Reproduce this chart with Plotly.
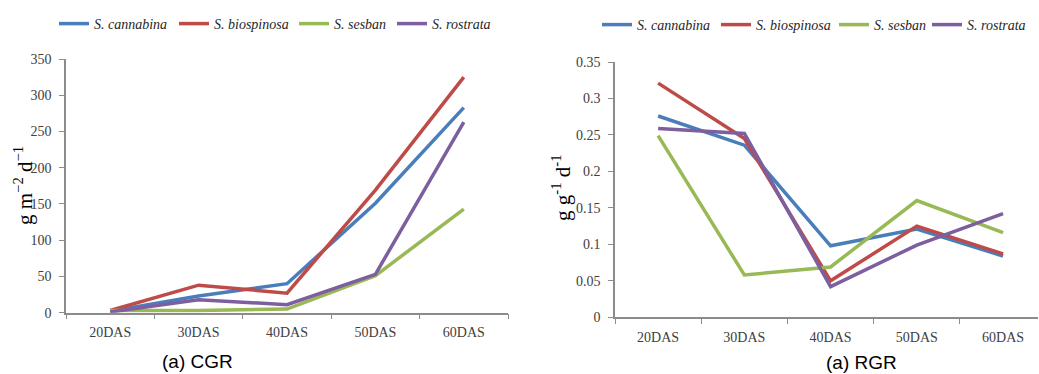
import plotly.graph_objects as go

W, H = 1039, 374
categories = ["20DAS", "30DAS", "40DAS", "50DAS", "60DAS"]
species = ["S. cannabina", "S. biospinosa", "S. sesban", "S. rostrata"]
colors = ["#4A7EBB", "#BE4B48", "#98B954", "#7D5FA0"]

cgr_cannabina = [2, 23, 40, 151, 283]
cgr_biospinosa = [3, 38, 27, 169, 325]
cgr_sesban = [3, 3, 5, 51, 143]
cgr_rostrata = [1, 18, 11, 53, 263]

rgr_cannabina = [0.276, 0.236, 0.098, 0.121, 0.084]
rgr_biospinosa = [0.321, 0.245, 0.050, 0.125, 0.087]
rgr_sesban = [0.249, 0.058, 0.069, 0.160, 0.116]
rgr_rostrata = [0.259, 0.252, 0.042, 0.099, 0.142]

cgr = [cgr_cannabina, cgr_biospinosa, cgr_sesban, cgr_rostrata]
rgr = [rgr_cannabina, rgr_biospinosa, rgr_sesban, rgr_rostrata]

# legend line start positions (px) in each panel
leg_left_x = [60, 180, 300, 398]
leg_right_x = [603, 722, 840, 933]


def px(x):
    return x / W


def py(y):
    return 1 - y / H


legfont = dict(family="Liberation Serif", size=14, color="#262626", style="italic")

fig = go.Figure()
legends = {}
for i, (name, col, vals) in enumerate(zip(species, colors, cgr)):
    lid = f"legend{i + 2}"
    fig.add_trace(go.Scatter(x=categories, y=vals, mode="lines", name=name,
                             line=dict(color=col, width=3.5), xaxis="x", yaxis="y",
                             legend=lid, showlegend=True))
    legends[lid] = dict(orientation="h", x=px(leg_left_x[i] - 6), y=py(24),
                        xanchor="left", yanchor="middle", font=legfont,
                        bgcolor="rgba(0,0,0,0)")
for i, (name, col, vals) in enumerate(zip(species, colors, rgr)):
    lid = f"legend{i + 6}"
    fig.add_trace(go.Scatter(x=categories, y=vals, mode="lines", name=name,
                             line=dict(color=col, width=3.5), xaxis="x2", yaxis="y2",
                             legend=lid, showlegend=True))
    legends[lid] = dict(orientation="h", x=px(leg_right_x[i] - 6), y=py(25),
                        xanchor="left", yanchor="middle", font=legfont,
                        bgcolor="rgba(0,0,0,0)")

tickfont = dict(family="Liberation Serif", size=14, color="#404040")
axcommon = dict(showgrid=False, zeroline=False, showline=True, linecolor="#8C8C8C",
                linewidth=1.5, ticks="outside", ticklen=5, tickcolor="#8C8C8C",
                tickfont=tickfont, automargin=False)

fig.update_layout(
    width=W, height=H,
    margin=dict(l=0, r=0, t=0, b=0, autoexpand=False),
    paper_bgcolor="white", plot_bgcolor="white",
    xaxis=dict(domain=[px(66), px(508)], type="category", categoryorder="array",
               categoryarray=categories, range=[-0.5, 4.5], tickson="boundaries",
               anchor="y", ticklabelstandoff=6, **axcommon),
    yaxis=dict(domain=[py(312.7), py(59)], range=[0, 350], dtick=50, anchor="x",
               ticklabelstandoff=5, **axcommon),
    xaxis2=dict(domain=[px(615), px(1038)], type="category", categoryorder="array",
                categoryarray=categories, range=[-0.5, 4.405], tickson="boundaries",
                anchor="y2", ticklabelstandoff=6, **axcommon),
    yaxis2=dict(domain=[py(317.3), py(62)], range=[0, 0.35], dtick=0.05, anchor="x2",
                tickformat="~g", ticklabelstandoff=5, **axcommon),
    annotations=[
        dict(text="g m<sup>−2</sup> d<sup>−1</sup>", x=px(23), y=py(186), xref="paper",
             yref="paper", textangle=-90, showarrow=False, xanchor="center",
             yanchor="middle",
             font=dict(family="Liberation Serif", size=21, color="#000000")),
        dict(text="g g<sup>-1</sup> d<sup>-1</sup>", x=px(561), y=py(188), xref="paper",
             yref="paper", textangle=-90, showarrow=False, xanchor="center",
             yanchor="middle",
             font=dict(family="Liberation Serif", size=21, color="#000000")),
        dict(text="(a) CGR", x=px(197), y=py(361), xref="paper", yref="paper",
             showarrow=False, xanchor="center", yanchor="middle",
             font=dict(family="Liberation Sans", size=19, color="#000000")),
        dict(text="(a) RGR", x=px(861), y=py(362), xref="paper", yref="paper",
             showarrow=False, xanchor="center", yanchor="middle",
             font=dict(family="Liberation Sans", size=19, color="#000000")),
    ],
    **legends,
)

fig.write_html("out.html", config={"displayModeBar": False},
               post_script="document.body.style.margin='0';")
